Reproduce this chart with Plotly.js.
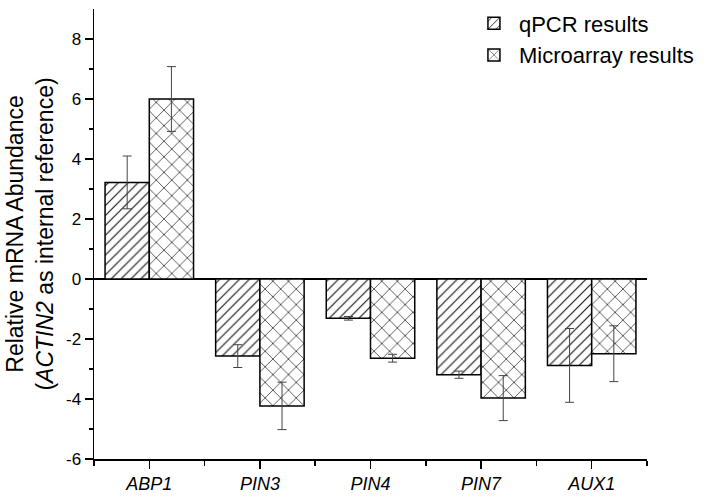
<!DOCTYPE html>
<html>
<head>
<meta charset="utf-8">
<script src="https://cdn.plot.ly/plotly-3.0.1.min.js"></script>
<style>html,body{margin:0;padding:0;background:#fff}#chart{width:704px;height:497px}</style>
</head>
<body>
<div id="chart"></div>
<script>
var genes = ["ABP1", "PIN3", "PIN4", "PIN7", "AUX1"];
var geneLabels = ["<i>ABP1</i>", "<i>PIN3</i>", "<i>PIN4</i>", "<i>PIN7</i>", "<i>AUX1</i>"];
var qpcrValues = [3.22, -2.57, -1.31, -3.19, -2.88];
var qpcrErrors = [0.88, 0.38, 0.06, 0.12, 1.23];
var microValues = [6.0, -4.23, -2.64, -3.97, -2.49];
var microErrors = [1.08, 0.79, 0.13, 0.75, 0.93];
var yTicks = [-6, -4, -2, 0, 2, 4, 6, 8];
var yTickText = ["-6", "-4", "-2", "0", "2", "4", "6", "8"];

var font = "Liberation Sans, Arial, sans-serif";
var xIdx = genes.map(function(g, i){ return i; });

var traces = [
  {
    type: "bar", name: "qPCR results", x: xIdx, y: qpcrValues,
    marker: {color: "white", line: {color: "black", width: 1.5},
      pattern: {shape: "/", fgcolor: "#111", bgcolor: "white", size: 7, solidity: 0.16}},
    error_y: {type: "data", array: qpcrErrors, visible: true, color: "#444", thickness: 1, width: 4.5}
  },
  {
    type: "bar", name: "Microarray results", x: xIdx, y: microValues,
    marker: {color: "white", line: {color: "black", width: 1.5},
      pattern: {shape: "x", fgcolor: "#111", bgcolor: "white", size: 11, solidity: 0.12}},
    error_y: {type: "data", array: microErrors, visible: true, color: "#444", thickness: 1, width: 4.5}
  }
];

var layout = {
  width: 704, height: 497,
  margin: {l: 94, r: 57, t: 9, b: 38, autoexpand: false},
  paper_bgcolor: "white", plot_bgcolor: "white",
  barmode: "group", bargap: 0.2, bargroupgap: 0,
  font: {family: font, color: "black", size: 18},
  showlegend: true,
  legend: {x: 0.678, y: 1.0145, xanchor: "left", yanchor: "top", bgcolor: "rgba(0,0,0,0)",
    font: {family: font, size: 22}, tracegroupgap: 0, itemwidth: 40},
  xaxis: {
    range: [-0.5, 4.5], tickmode: "array", tickvals: xIdx, ticktext: geneLabels, automargin: false,
    showgrid: false, zeroline: false, showline: true, linecolor: "black", linewidth: 1.5,
    ticks: "outside", ticklen: 8, tickwidth: 1.5, tickcolor: "black",
    tickfont: {family: font, size: 18},
    minor: {tickmode: "array", tickvals: [-0.5, 0.5, 1.5, 2.5, 3.5, 4.5], ticks: "outside", ticklen: 5, tickwidth: 1.5, tickcolor: "black", showgrid: false}
  },
  yaxis: {
    range: [-6, 9], tickmode: "array", tickvals: yTicks, ticktext: yTickText, automargin: false,
    showgrid: false, zeroline: true, zerolinecolor: "black", zerolinewidth: 1.5,
    showline: true, linecolor: "black", linewidth: 1.5,
    ticks: "outside", ticklen: 8, tickwidth: 1.5, tickcolor: "black",
    tickfont: {family: font, size: 17},
    minor: {tickmode: "array", tickvals: [-5, -3, -1, 1, 3, 5, 7], ticks: "outside", ticklen: 4, tickwidth: 1.5, tickcolor: "black", showgrid: false},
    title: {text: "Relative mRNA Abundance<br>(<i>ACTIN2</i> as internal reference)", font: {family: font, size: 23}, standoff: 6}
  }
};

Plotly.newPlot("chart", traces, layout, {displayModeBar: false, staticPlot: true});
</script>
</body>
</html>
